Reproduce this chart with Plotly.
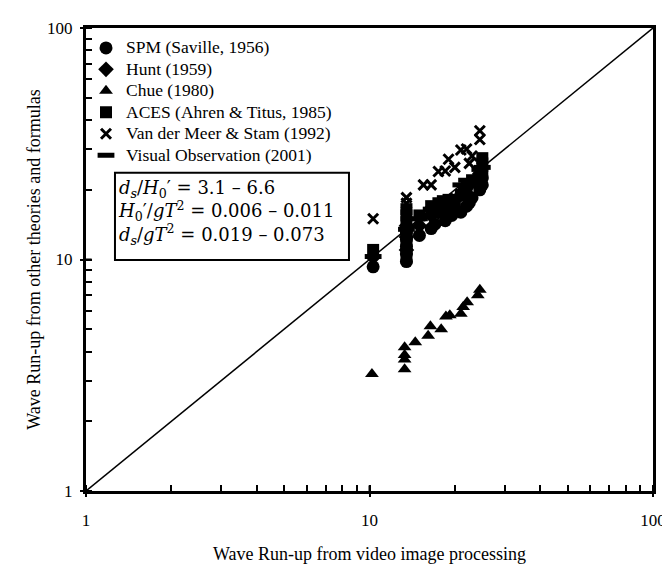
import plotly.graph_objects as go

# ---- data ----
spm_x = [10.3, 13.5, 13.5, 13.5, 13.5, 13.5, 15.0, 16.5, 17.0, 18.5, 19.5, 21.0, 22.0, 22.5, 23.0, 24.5, 25.0, 25.0]
spm_y = [9.3, 9.8, 10.6, 11.4, 12.2, 13.0, 12.7, 13.6, 14.2, 14.7, 15.5, 16.0, 17.0, 17.6, 18.5, 20.0, 21.0, 22.5]

hunt_x = [10.3, 13.5, 13.5, 13.5, 15.0, 16.5, 17.5, 18.5, 19.5, 21.0, 22.0, 23.0, 24.5, 25.0]
hunt_y = [10.2, 11.0, 12.5, 14.0, 14.0, 15.5, 16.0, 17.0, 18.0, 19.0, 20.5, 21.5, 23.5, 25.0]

chue_x = [10.2, 13.3, 13.3, 13.3, 13.3, 14.5, 16.1, 16.4, 17.9, 18.6, 19.2, 21.0, 21.4, 22.1, 24.1, 24.5]
chue_y = [3.2, 3.36, 3.7, 3.87, 4.18, 4.39, 4.68, 5.15, 5.0, 5.67, 5.75, 5.83, 6.23, 6.54, 7.0, 7.4]

aces_x = [10.3, 13.5, 13.5, 13.5, 13.5, 13.5, 13.5, 15.0, 16.5, 16.5, 17.5, 18.5, 19.0, 20.0, 21.0, 21.5, 22.0, 23.0, 24.5, 25.0, 25.0, 25.0]
aces_y = [11.0, 10.2, 11.6, 13.0, 14.5, 15.5, 16.5, 15.5, 16.0, 17.0, 17.5, 16.5, 18.1, 17.0, 19.0, 20.0, 20.5, 22.0, 22.5, 24.0, 26.0, 27.4]

vdm_x = [10.3, 13.5, 13.5, 15.5, 16.5, 17.5, 18.5, 19.0, 20.0, 21.0, 22.0, 22.5, 23.0, 24.5, 24.5]
vdm_y = [15.0, 17.5, 18.5, 21.0, 21.0, 24.0, 24.1, 27.1, 25.0, 29.7, 30.0, 26.0, 28.0, 33.0, 36.0]

vis_x = [10.3, 13.5, 15.0, 16.5, 18.5, 21.0, 22.0, 24.5, 25.0]
vis_y = [10.3, 13.5, 15.0, 16.5, 18.5, 21.0, 22.0, 24.5, 25.0]

line_x = [1, 100]
line_y = [1, 100]

series_names = ["SPM (Saville, 1956)", "Hunt (1959)", "Chue (1980)",
                "ACES (Ahren & Titus, 1985)", "Van der Meer & Stam (1992)",
                "Visual Observation (2001)"]

tick_vals = [1, 10, 100]
tick_text = ["1", "10", "100"]

FONT = "Liberation Serif"

fig = go.Figure()
fig.add_trace(go.Scatter(x=line_x, y=line_y, mode="lines",
                         line=dict(color="black", width=1.5), showlegend=False, hoverinfo="skip"))

def add(name, xs, ys, symbol, size, lw=0):
    fig.add_trace(go.Scatter(
        x=xs, y=ys, mode="markers",
        name='<span style="font-size:17.5px">' + name + '</span>',
        marker=dict(symbol=symbol, size=size, color="black",
                    line=dict(color="black", width=lw))))

add(series_names[0], spm_x, spm_y, "circle", 13)
add(series_names[1], hunt_x, hunt_y, "diamond", 12)
add(series_names[2], chue_x, chue_y, "triangle-up", 12)
add(series_names[3], aces_x, aces_y, "square", 12)
add(series_names[4], vdm_x, vdm_y, "x-thin-open", 10, 3)
add(series_names[5], vis_x, vis_y, "line-ew-open", 12, 5)

axis_common = dict(
    type="log", tickvals=tick_vals, ticktext=tick_text,
    showline=True, linewidth=3, linecolor="black", mirror=True,
    ticks="outside", ticklen=3, tickwidth=2, tickcolor="black",
    showgrid=False, zeroline=False,
    tickfont=dict(family=FONT, size=17, color="black"),
    minor=dict(ticks="inside", ticklen=6, tickwidth=2, tickcolor="black",
               dtick="D1", showgrid=False),
)

fig.update_layout(
    width=670, height=564,
    margin=dict(l=78, r=25, t=11, b=70),
    paper_bgcolor="white", plot_bgcolor="white",
    font=dict(family=FONT, color="black"),
    xaxis=dict(range=[0, 2], ticklabelstandoff=9,
               title=dict(text="Wave Run-up from video image processing",
                          font=dict(family=FONT, size=18), standoff=18),
               **axis_common),
    yaxis=dict(range=[0, 2], ticklabelstandoff=4,
               title=dict(text="Wave Run-up from other theories and formulas",
                          font=dict(family=FONT, size=18), standoff=2),
               **axis_common),
    legend=dict(x=0.0, y=0.991, xanchor="left", yanchor="top",
                bgcolor="rgba(0,0,0,0)", font=dict(family=FONT, size=14.2),
                tracegroupgap=0, itemwidth=30),
    showlegend=True,
)

# inside halves of the major ticks at 10
fig.add_shape(type="line", xref="x", yref="paper", x0=10, x1=10, y0=0, y1=0.012,
              line=dict(color="black", width=2))
fig.add_shape(type="line", xref="paper", yref="y", x0=0, x1=0.01, y0=10, y1=10,
              line=dict(color="black", width=2))

# parameter box
fig.add_shape(type="rect", xref="paper", yref="paper",
              x0=0.0511, x1=0.4638, y0=0.499, y1=0.6874,
              line=dict(color="black", width=2), fillcolor="rgba(0,0,0,0)")
box_text = ("<i>d</i><sub><i>s</i></sub>/<i>H</i><sub>0</sub>′ = 3.1 – 6.6<br>"
            "<i>H</i><sub>0</sub>′/<i>gT</i><sup>2</sup> = 0.006 – 0.011<br>"
            "<i>d</i><sub><i>s</i></sub>/<i>gT</i><sup>2</sup> = 0.019 – 0.073")
fig.add_annotation(xref="paper", yref="paper", x=0.053, y=0.601,
                   xanchor="left", yanchor="middle", align="left",
                   text=box_text, showarrow=False,
                   font=dict(family="DejaVu Serif", size=18, color="black"))

fig.write_html("out.html")
